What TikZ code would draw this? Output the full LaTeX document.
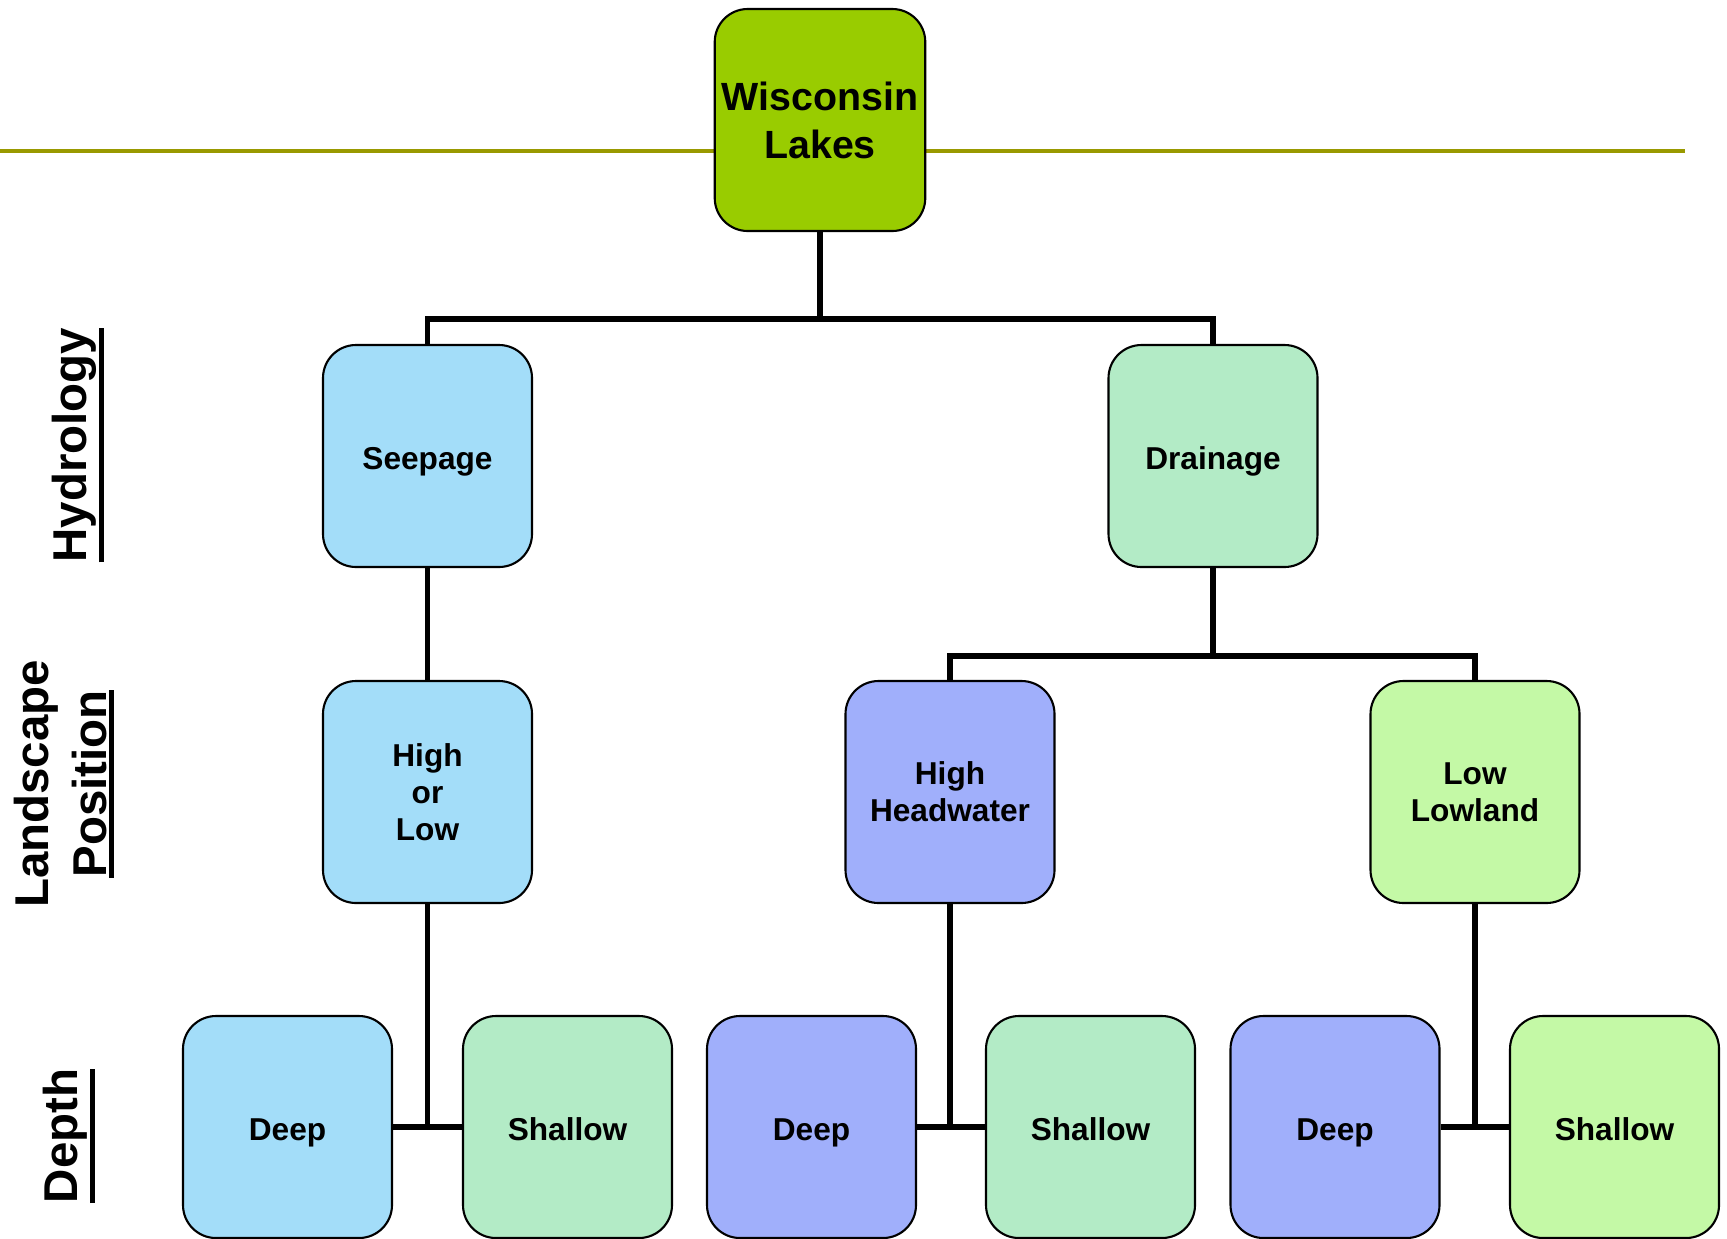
\documentclass[tikz,border=0pt]{standalone}
\usepackage{fontspec}
\setmainfont{Liberation Sans}
\usepackage{xcolor}
\usetikzlibrary{positioning,calc}

\definecolor{wisgreen}{HTML}{99CC00}
\definecolor{rulecol}{HTML}{999900}
\definecolor{seepblue}{HTML}{A3DDF9}
\definecolor{mintgreen}{HTML}{B3EBC6}
\definecolor{headpurple}{HTML}{A0AFFB}
\definecolor{lowgreen}{HTML}{C4F9A6}

\newcommand\thickul[1]{\vtop{\hbox{#1}\kern0.6pt\hrule height 1.4pt}}

\begin{document}
\begin{tikzpicture}[
  box/.style={draw, line width=0.6pt, rounded corners=3.3mm, align=center, minimum width=20.9mm, minimum height=22.2mm, inner sep=2pt, font=\fontsize{9}{10.6}\selectfont\bfseries},
  oneline/.style={text height=0.76em, text depth=0.02em},
  conn/.style={line width=1.6pt},
  axislabel/.style={rotate=90, align=center, font=\fontsize{13.5}{16.3}\selectfont\bfseries}
]
  \useasboundingbox (0,0) rectangle (17.27,-12.38);

  \coordinate (rulel) at (0,-1.51);
  \coordinate (ruler) at (16.85,-1.51);
  \draw[rulecol, line width=0.9pt] (rulel) -- (ruler);

  \node[box, fill=wisgreen, font=\fontsize{11.2}{13.7}\selectfont\bfseries] (wis) at (8.20,-1.20) {Wisconsin\\Lakes};

  \node[box, oneline, fill=seepblue] (seep) at (4.275,-4.56) {Seepage};
  \node[box, oneline, fill=mintgreen] (drain) at (12.13,-4.56) {Drainage};

  \node[box, fill=seepblue] (hol) at (4.275,-7.92) {High\\or\\Low};
  \node[box, fill=headpurple] (head) at (9.50,-7.92) {High\\Headwater};
  \node[box, fill=lowgreen] (lowl) at (14.75,-7.92) {Low\\Lowland};

  \node[box, oneline, fill=seepblue] (deepa) at (2.875,-11.27) {Deep};
  \node[box, oneline, fill=mintgreen] (shala) at (5.675,-11.27) {Shallow};
  \node[box, oneline, fill=headpurple] (deepb) at (8.115,-11.27) {Deep};
  \node[box, oneline, fill=mintgreen] (shalb) at (10.905,-11.27) {Shallow};
  \node[box, oneline, fill=headpurple] (deepc) at (13.35,-11.27) {Deep};
  \node[box, oneline, fill=lowgreen] (shalc) at (16.145,-11.27) {Shallow};

  % side labels
  \node[axislabel] (hydro) at (0.78,-4.45) {\thickul{Hydrology}};
  \node[axislabel] (lpos) at (0.64,-7.84) {Landscape\\\thickul{Position}};
  \node[axislabel] (depth) at (0.69,-11.36) {\thickul{Depth}};

  % tree connectors
  \coordinate (busa) at (8.20,-3.19);
  \coordinate (busb) at (12.13,-6.56);
  \draw[conn] (wis.south) -- (busa) -| (seep.north);
  \draw[conn] (busa) -| (drain.north);
  \draw[conn] (seep.south) -- (hol.north);
  \draw[conn] (drain.south) -- (busb) -| (head.north);
  \draw[conn] (busb) -| (lowl.north);

  \draw[conn] (hol.south) -- (hol.south |- deepa.east);
  \draw[conn] (deepa.east) -- (shala.west);
  \draw[conn] (head.south) -- (head.south |- deepb.east);
  \draw[conn] (deepb.east) -- (shalb.west);
  \draw[conn] (lowl.south) -- (lowl.south |- deepc.east);
  \draw[conn] (deepc.east) -- (shalc.west);
\end{tikzpicture}
\end{document}
